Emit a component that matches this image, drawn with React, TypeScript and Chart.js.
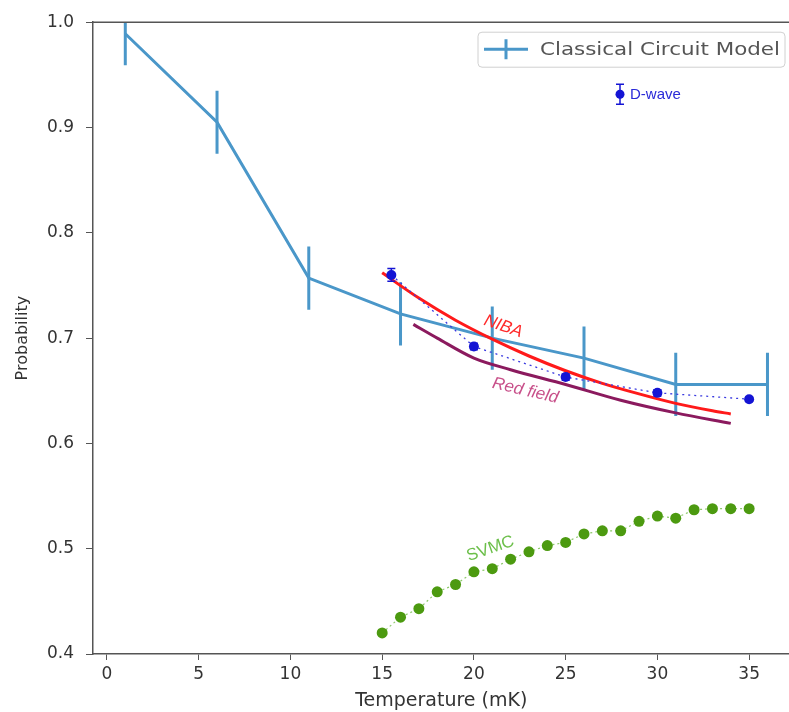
import React, { useEffect, useRef } from "react";
import { Chart, registerables } from "chart.js";

Chart.register(...registerables);

// ---- data ----
const classicalX = [1, 6, 11, 16, 21, 26, 31, 36];
const classicalY = [0.989, 0.905, 0.757, 0.723, 0.7, 0.681, 0.656, 0.656];
const classicalErr = [0.03, 0.03, 0.03, 0.03, 0.03, 0.03, 0.03, 0.03];

const dwaveX = [15.5, 20, 25, 30, 35];
const dwaveY = [0.76, 0.692, 0.663, 0.648, 0.642];
const dwaveErr = [0.006, 0.003, 0.003, 0.003, 0.002];

const nibaX = [15, 17, 19, 21, 23, 25, 27, 29, 31, 33, 34];
const nibaY = [0.762, 0.738, 0.717, 0.699, 0.683, 0.669, 0.657, 0.647, 0.638, 0.631, 0.628];

const redfieldX = [16.7, 18, 20, 22, 25, 28, 31, 34];
const redfieldY = [0.713, 0.7, 0.681, 0.67, 0.656, 0.641, 0.629, 0.619];

const svmcX = [15, 16, 17, 18, 19, 20, 21, 22, 23, 24, 25, 26, 27, 28, 29, 30, 31, 32, 33, 34, 35];
const svmcY = [
  0.42, 0.435, 0.443, 0.459, 0.466, 0.478, 0.481, 0.49, 0.497, 0.503, 0.506,
  0.514, 0.517, 0.517, 0.526, 0.531, 0.529, 0.537, 0.538, 0.538, 0.538,
];

const xTicks = [0, 5, 10, 15, 20, 25, 30, 35];
const yTicks = [0.4, 0.5, 0.6, 0.7, 0.8, 0.9, 1.0];

const legendLabel = "Classical Circuit Model";
const dwaveLabel = "D-wave";
const annotations = [
  { text: "NIBA", x: 21.6, y: 0.711, angle: 19, color: "#ff2a2a", italic: true },
  { text: "Red field", x: 22.8, y: 0.65, angle: 13, color: "#c8508a", italic: true },
  { text: "SVMC", x: 20.9, y: 0.5, angle: -19, color: "#6cbf4a", italic: false },
];

const zip = (xs: number[], ys: number[]) => xs.map((x, i) => ({ x, y: ys[i] }));

const errorBarPlugin = {
  id: "errbars",
  afterDatasetDraw(chart: any, args: any) {
    const ds = chart.data.datasets[args.index];
    if (!ds.errors) return;
    const { ctx, chartArea, scales } = chart;
    const xs = scales.x;
    const ys = scales.y;
    ctx.save();
    ctx.beginPath();
    ctx.rect(chartArea.left, chartArea.top, chartArea.right - chartArea.left, chartArea.bottom - chartArea.top);
    ctx.clip();
    ctx.strokeStyle = ds.errColor;
    ctx.lineWidth = ds.errWidth;
    ds.data.forEach((p: any, i: number) => {
      const e = ds.errors[i];
      const px = xs.getPixelForValue(p.x);
      const y1 = ys.getPixelForValue(p.y - e);
      const y2 = ys.getPixelForValue(p.y + e);
      ctx.beginPath();
      ctx.moveTo(px, y1);
      ctx.lineTo(px, y2);
      if (ds.capSize) {
        ctx.moveTo(px - ds.capSize, y1);
        ctx.lineTo(px + ds.capSize, y1);
        ctx.moveTo(px - ds.capSize, y2);
        ctx.lineTo(px + ds.capSize, y2);
      }
      ctx.stroke();
    });
    ctx.restore();
  },
};

const decorPlugin = {
  id: "decor",
  afterDraw(chart: any) {
    const { ctx, chartArea, scales } = chart;
    const xs = scales.x;
    const ys = scales.y;
    ctx.save();
    // top spine
    ctx.strokeStyle = "#555";
    ctx.lineWidth = 1.5;
    ctx.beginPath();
    ctx.moveTo(chartArea.left, chartArea.top);
    ctx.lineTo(chartArea.right, chartArea.top);
    ctx.stroke();

    // annotations
    annotations.forEach((a) => {
      ctx.save();
      ctx.translate(xs.getPixelForValue(a.x), ys.getPixelForValue(a.y));
      ctx.rotate((a.angle * Math.PI) / 180);
      ctx.font = `${a.italic ? "italic " : ""}17px "Liberation Sans", Arial, sans-serif`;
      ctx.fillStyle = a.color;
      ctx.textAlign = "center";
      ctx.textBaseline = "middle";
      ctx.fillText(a.text, 0, 0);
      ctx.restore();
    });

    // legend box
    const bx = chartArea.left + 385;
    const by = chartArea.top + 10;
    const bw = 307;
    const bh = 35;
    ctx.fillStyle = "rgba(255,255,255,0.85)";
    ctx.strokeStyle = "#d0d0d0";
    ctx.lineWidth = 1;
    ctx.beginPath();
    (ctx as any).roundRect(bx, by, bw, bh, 4);
    ctx.fill();
    ctx.stroke();
    ctx.strokeStyle = "#4a97c9";
    ctx.lineWidth = 3;
    ctx.beginPath();
    ctx.moveTo(bx + 6, by + 17);
    ctx.lineTo(bx + 50, by + 17);
    ctx.moveTo(bx + 28, by + 7);
    ctx.lineTo(bx + 28, by + 27);
    ctx.stroke();
    ctx.fillStyle = "#555";
    ctx.font = '18px "DejaVu Sans", sans-serif';
    ctx.textAlign = "left";
    ctx.textBaseline = "middle";
    const tw = ctx.measureText(legendLabel).width;
    const target = 240;
    ctx.save();
    ctx.translate(bx + 62, by + 18);
    ctx.scale(target / tw, 1);
    ctx.fillText(legendLabel, 0, 0);
    ctx.restore();

    // D-wave legend
    const dx = chartArea.left + 527;
    const dy = chartArea.top + 72;
    ctx.strokeStyle = "#1414d4";
    ctx.lineWidth = 1.5;
    ctx.beginPath();
    ctx.moveTo(dx, dy - 10);
    ctx.lineTo(dx, dy + 10);
    ctx.moveTo(dx - 4, dy - 10);
    ctx.lineTo(dx + 4, dy - 10);
    ctx.moveTo(dx - 4, dy + 10);
    ctx.lineTo(dx + 4, dy + 10);
    ctx.stroke();
    ctx.fillStyle = "#1414d4";
    ctx.beginPath();
    ctx.arc(dx, dy, 4.5, 0, Math.PI * 2);
    ctx.fill();
    ctx.fillStyle = "#2a2ad8";
    ctx.font = '15px "Liberation Sans Narrow", "Liberation Sans", sans-serif';
    ctx.fillText(dwaveLabel, dx + 10, dy + 1);
    ctx.restore();
  },
};

export default function App() {
  const ref = useRef<HTMLCanvasElement | null>(null);
  useEffect(() => {
    if (!ref.current) return;
    const chart = new Chart(ref.current, {
      type: "line",
      data: {
        datasets: [
          {
            label: "Classical Circuit Model",
            data: zip(classicalX, classicalY),
            borderColor: "#4a97c9",
            borderWidth: 3,
            pointRadius: 0,
            order: 5,
            errors: classicalErr,
            errColor: "#4a97c9",
            errWidth: 3,
            capSize: 0,
          } as any,
          {
            label: "Red field",
            data: zip(redfieldX, redfieldY),
            borderColor: "#8b1a5e",
            borderWidth: 3,
            pointRadius: 0,
            cubicInterpolationMode: "monotone",
            order: 4,
          },
          {
            label: "NIBA",
            data: zip(nibaX, nibaY),
            borderColor: "#ff1a1a",
            borderWidth: 3,
            pointRadius: 0,
            cubicInterpolationMode: "monotone",
            order: 3,
          },
          {
            label: "SVMC",
            data: zip(svmcX, svmcY),
            borderColor: "#8cc86a",
            borderWidth: 1.2,
            borderDash: [2, 3],
            pointRadius: 5.5,
            pointBorderWidth: 0,
            pointBackgroundColor: "#4c9a10",
            order: 2,
          },
          {
            label: "D-wave",
            data: zip(dwaveX, dwaveY),
            borderColor: "#3a3ae0",
            borderWidth: 1.3,
            borderDash: [2, 4],
            pointRadius: 5,
            pointBorderWidth: 0,
            pointBackgroundColor: "#1414d4",
            order: 1,
            errors: dwaveErr,
            errColor: "#1414d4",
            errWidth: 1.5,
            capSize: 4,
          } as any,
        ],
      },
      options: {
        animation: false,
        responsive: false,
        layout: { padding: { top: 20, right: 0, left: 0, bottom: 0 } },
        plugins: { legend: { display: false }, tooltip: { enabled: false } },
        scales: {
          x: {
            type: "linear",
            min: -0.76,
            max: 37.2,
            afterBuildTicks: (s: any) => {
              s.ticks = xTicks.map((v) => ({ value: v }));
            },
            afterFit: (s: any) => {
              s.height = 58;
            },
            grid: { drawOnChartArea: false, drawTicks: true, tickLength: 6, color: "#555" },
            border: { display: true, color: "#555", width: 1.5 },
            ticks: {
              color: "#333",
              padding: 4,
              font: { family: "DejaVu Sans", size: 17 },
              callback: (v: any) => String(v),
            },
            title: {
              display: true,
              text: "Temperature (mK)",
              color: "#333",
              font: { family: "DejaVu Sans", size: 19 },
              padding: { top: 0, bottom: 0 },
            },
          },
          y: {
            type: "linear",
            min: 0.4,
            max: 1.0,
            afterBuildTicks: (s: any) => {
              s.ticks = yTicks.map((v) => ({ value: v }));
            },
            afterFit: (s: any) => {
              s.width = 93;
            },
            grid: { drawOnChartArea: false, drawTicks: true, tickLength: 7, color: "#555" },
            border: { display: true, color: "#555", width: 1.5 },
            ticks: {
              color: "#333",
              padding: 12,
              font: { family: "DejaVu Sans", size: 17 },
              callback: (v: any) => Number(v).toFixed(1),
            },
            title: {
              display: true,
              text: "Probability",
              color: "#333",
              font: { family: "DejaVu Sans", size: 16 },
              padding: { top: 13, bottom: 0 },
            },
          },
        },
      } as any,
      plugins: [errorBarPlugin, decorPlugin],
    });
    return () => chart.destroy();
  }, []);
  return (
    <div
      style={{
        position: "fixed",
        left: 0,
        top: 0,
        width: 789,
        height: 712,
        overflow: "hidden",
        background: "#fff",
      }}
    >
      <canvas ref={ref} width={795} height={712} />
    </div>
  );
}
